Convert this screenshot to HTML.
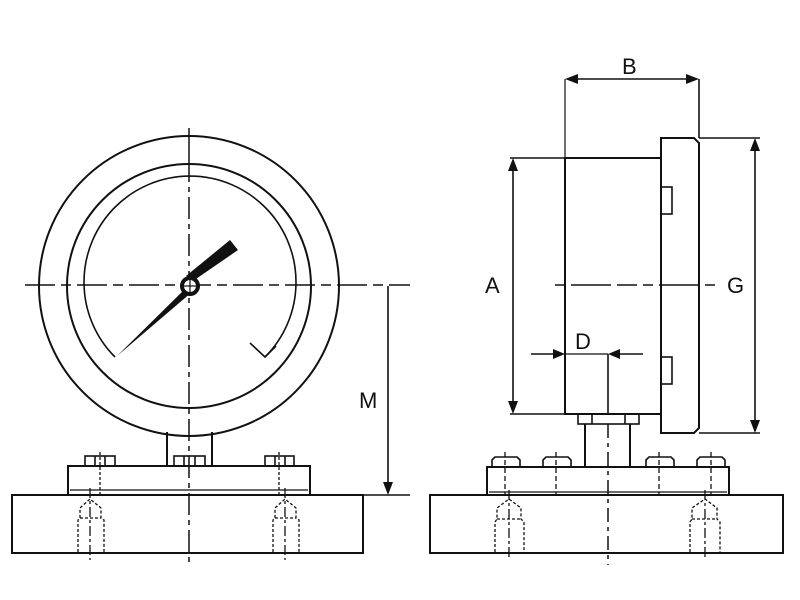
<!DOCTYPE html>
<html><head><meta charset="utf-8"><style>html,body{margin:0;padding:0;background:#fff}svg{display:block}</style></head>
<body>
<svg width="800" height="600" viewBox="0 0 800 600" xmlns="http://www.w3.org/2000/svg" font-family="Liberation Sans, sans-serif">
<g fill="none" stroke="#111" stroke-width="2">
<!-- LEFT VIEW -->
<circle cx="189" cy="286" r="150"/>
<circle cx="189" cy="286" r="122"/>
<path d="M115,357 A106,106 0 1 1 265,357" stroke-width="1.6"/>
<path d="M250,343 L265,357 L276,346" stroke-width="1.6"/>
<line x1="189" y1="128" x2="189" y2="160" stroke-width="1.5"/>
<line x1="189" y1="160" x2="189" y2="565" stroke-width="1.5" stroke-dasharray="22,5,5,5"/>
<line x1="25" y1="285" x2="410" y2="285" stroke-width="1.5" stroke-dasharray="30,6,10,6"/>
<path d="M167,432 L167,466 M212,432 L212,466"/>
<rect x="68" y="466" width="242" height="29"/>
<line x1="70" y1="490" x2="308" y2="490" stroke-width="1.2"/>
<rect x="12" y="495" width="351" height="58"/>
<g stroke-width="1.6">
<rect x="85" y="456" width="30" height="10"/><line x1="95" y1="456" x2="95" y2="466"/><line x1="105" y1="456" x2="105" y2="466"/>
<rect x="174" y="456" width="31" height="10"/><line x1="184" y1="456" x2="184" y2="466"/><line x1="195" y1="456" x2="195" y2="466"/>
<rect x="265" y="456" width="29" height="10"/><line x1="275" y1="456" x2="275" y2="466"/><line x1="285" y1="456" x2="285" y2="466"/>
</g>
<g stroke-width="1.3" stroke-dasharray="3,2">
<path d="M78,552 L78,520 L80,518 L80,508 L90,499 L101,508 L101,518 L104,520 L104,552"/>
<line x1="80" y1="518" x2="101" y2="518"/>
<path d="M273,552 L273,520 L275,518 L275,508 L285,499 L296,508 L296,518 L299,520 L299,552"/>
<line x1="275" y1="518" x2="296" y2="518"/>
<line x1="100" y1="452" x2="100" y2="495"/>
<line x1="279" y1="452" x2="279" y2="495"/>
</g>
<g stroke-width="1.3" stroke-dasharray="10,3,3,3">
<line x1="90" y1="488" x2="90" y2="560"/>
<line x1="285" y1="488" x2="285" y2="560"/>
</g>
<line x1="388" y1="286" x2="388" y2="485" stroke-width="1.6"/>
<line x1="363" y1="495" x2="410" y2="495" stroke-width="1.6"/>

<!-- RIGHT VIEW -->
<rect x="565" y="158" width="96" height="256"/>
<path d="M661,138 L694,138 L699,143 L699,428 L694,433 L661,433 Z"/>
<rect x="661" y="187" width="11" height="27" stroke-width="1.6"/>
<rect x="661" y="357" width="11" height="27" stroke-width="1.6"/>
<line x1="565" y1="79" x2="565" y2="414" stroke-width="1.2"/>
<line x1="699" y1="79" x2="699" y2="138" stroke-width="1.6"/>
<line x1="570" y1="79" x2="694" y2="79" stroke-width="1.6"/>
<line x1="510" y1="158" x2="565" y2="158" stroke-width="1.6"/>
<line x1="510" y1="414" x2="565" y2="414" stroke-width="1.6"/>
<line x1="513" y1="165" x2="513" y2="407" stroke-width="1.6"/>
<line x1="699" y1="138" x2="760" y2="138" stroke-width="1.6"/>
<line x1="699" y1="433" x2="760" y2="433" stroke-width="1.6"/>
<line x1="755" y1="145" x2="755" y2="426" stroke-width="1.6"/>
<line x1="555" y1="285" x2="715" y2="285" stroke-width="1.5" stroke-dasharray="10,6,40,6,20,6"/>
<line x1="531" y1="354" x2="560" y2="354" stroke-width="1.6"/>
<line x1="565" y1="354" x2="608" y2="354" stroke-width="1.2"/>
<line x1="614" y1="354" x2="643" y2="354" stroke-width="1.6"/>
<line x1="608" y1="354" x2="608" y2="414" stroke-width="1.6"/>
<rect x="578" y="414" width="61" height="10" stroke-width="1.6"/>
<line x1="592" y1="414" x2="592" y2="424" stroke-width="1.6"/>
<line x1="625" y1="414" x2="625" y2="424" stroke-width="1.6"/>
<path d="M585,424 L585,467 M630,424 L630,467"/>
<line x1="608" y1="424" x2="608" y2="565" stroke-width="1.5" stroke-dasharray="14,5,4,5"/>
<rect x="487" y="467" width="242" height="28"/>
<line x1="489" y1="492" x2="727" y2="492" stroke-width="1.2"/>
<rect x="430" y="495" width="353" height="58"/>
<g stroke-width="1.6">
<path d="M492,467 L492,460 L495,457 L517,457 L520,460 L520,467"/>
<path d="M543,467 L543,460 L546,457 L568,457 L571,460 L571,467"/>
<path d="M646,467 L646,460 L649,457 L671,457 L674,460 L674,467"/>
<path d="M697,467 L697,460 L700,457 L722,457 L725,460 L725,467"/>
</g>
<g stroke-width="1.3" stroke-dasharray="5,3">
<line x1="505" y1="452" x2="505" y2="495"/><line x1="556" y1="452" x2="556" y2="495"/>
<line x1="659" y1="452" x2="659" y2="495"/><line x1="711" y1="452" x2="711" y2="495"/>
</g>
<g stroke-width="1.3" stroke-dasharray="3,2">
<path d="M495,552 L495,522 L497,519 L497,508 L509,499 L521,508 L521,519 L524,522 L524,552"/>
<line x1="497" y1="519" x2="521" y2="519"/>
<path d="M690,552 L690,522 L692,519 L692,508 L705,499 L717,508 L717,519 L720,522 L720,552"/>
<line x1="692" y1="519" x2="717" y2="519"/>
</g>
<g stroke-width="1.3" stroke-dasharray="10,3,3,3">
<line x1="509" y1="490" x2="509" y2="560"/>
<line x1="705" y1="490" x2="705" y2="560"/>
</g>
</g>

<g fill="#111" stroke="none">
<polygon points="193,281 186,276 230,240 238,250"/>
<polygon points="186,288 192,292 117,356"/>
</g>
<circle cx="190" cy="286" r="8" fill="#fff" stroke="#111" stroke-width="4"/>
<line x1="190" y1="280" x2="190" y2="292" stroke="#111" stroke-width="1.2"/>
<line x1="184" y1="286" x2="196" y2="286" stroke="#111" stroke-width="1.2"/>

<g fill="#111">
<polygon points="388,495 383,482 393,482"/>
<polygon points="565,79 578,74 578,84"/>
<polygon points="699,79 686,74 686,84"/>
<polygon points="513,158 508,171 518,171"/>
<polygon points="513,414 508,401 518,401"/>
<polygon points="755,138 750,151 760,151"/>
<polygon points="755,433 750,420 760,420"/>
<polygon points="565,354 553,349 553,359"/>
<polygon points="608,354 620,349 620,359"/>
</g>

<g font-size="22" fill="#111">
<text x="359" y="408">M</text>
<text x="622" y="74">B</text>
<text x="485" y="293">A</text>
<text x="727" y="293">G</text>
<text x="575" y="349">D</text>
</g>
</svg>
</body></html>
